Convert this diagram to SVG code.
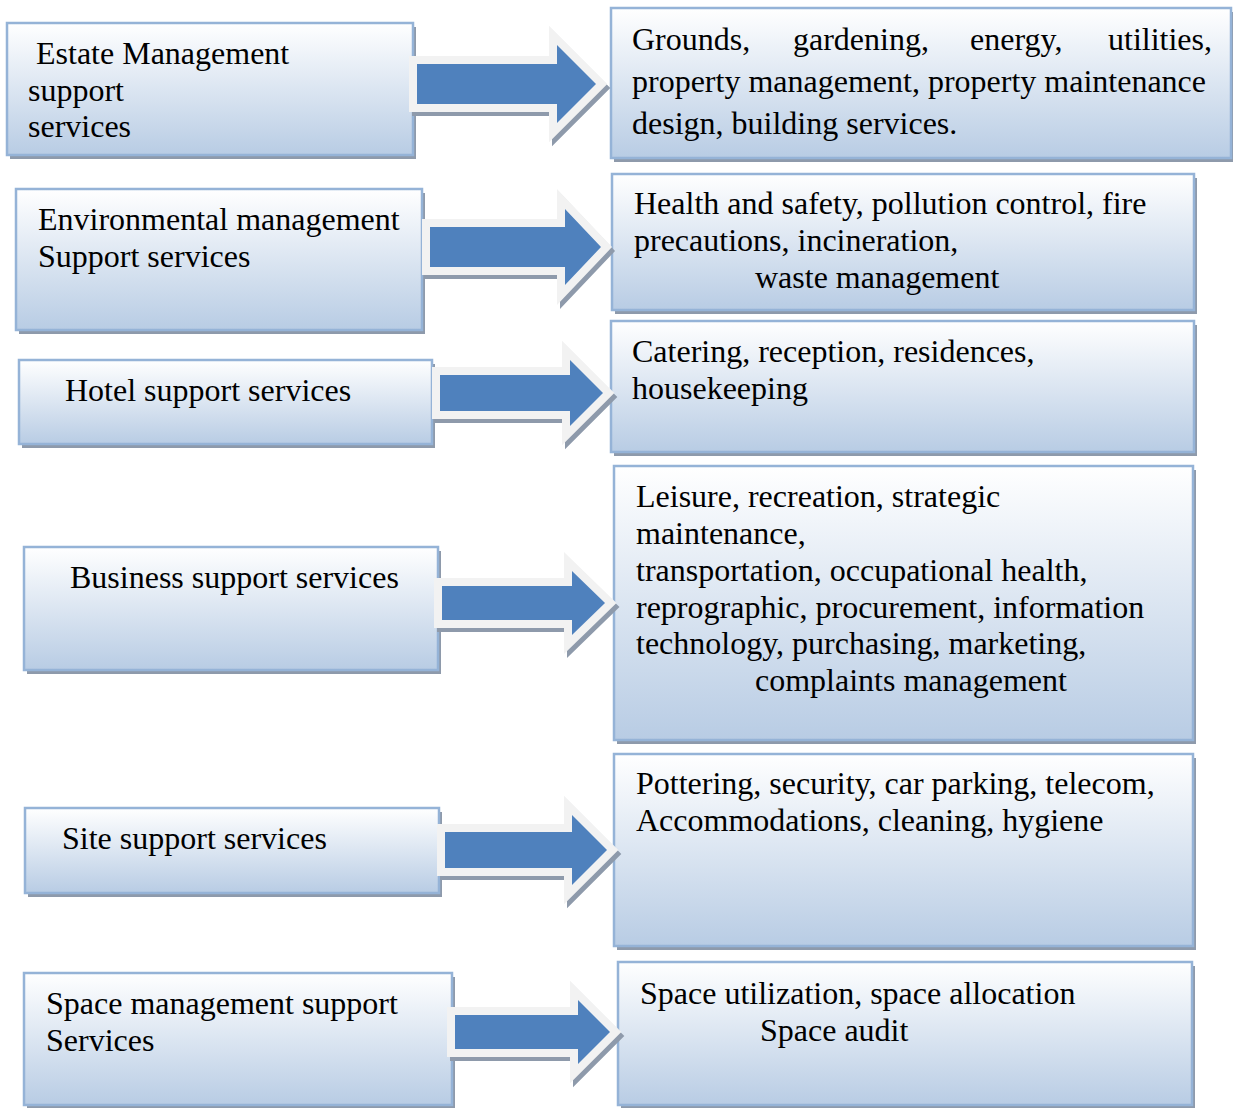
<svg xmlns="http://www.w3.org/2000/svg" xmlns:xlink="http://www.w3.org/1999/xlink" width="1233" height="1108" viewBox="0 0 1233 1108">
<defs>
<linearGradient id="bg" x1="0" y1="0" x2="0" y2="1">
<stop offset="0" stop-color="#ffffff"/>
<stop offset="1" stop-color="#b8cce4"/>
</linearGradient>
<style>
.box{fill:url(#bg);stroke:#95b3d7;stroke-width:2.5}
.sh{fill:#8e9aab}
text{font-family:"Liberation Serif","Times New Roman",serif;font-size:32px;fill:#000}
.ar{fill:#4f81bd;stroke:#f2f2f2;stroke-width:16;stroke-linejoin:miter;stroke-miterlimit:10;paint-order:stroke}
.as{fill:#8e9aab;stroke:#8e9aab;stroke-width:16;stroke-linejoin:miter;stroke-miterlimit:10}
</style>
<path id="a1" d="M417,64 H557 V45 L596,84 L557,123 V104 H417 Z"/>
<path id="a2" d="M430,227 H565 V209 L601,247 L565,285 V267 H430 Z"/>
<path id="a3" d="M440,375 H570 V360 L603,393 L570,426 V411 H440 Z"/>
<path id="a4" d="M442,586 H572 V571 L605,603 L572,635 V620 H442 Z"/>
<path id="a5" d="M445,832 H572 V815 L607,850 L572,885 V868 H445 Z"/>
<path id="a6" d="M455,1015 H578 V1000 L610,1032 L578,1064 V1049 H455 Z"/>
</defs>
<rect width="1233" height="1108" fill="#fff"/>
<g id="n1">
<rect class="sh" x="10" y="27" width="406" height="132"/>
<rect class="box" x="7" y="23" width="406" height="132"/>
<text x="36" y="64">Estate Management</text>
<text x="28" y="101">support</text>
<text x="28" y="137">services</text>
</g>
<g id="r1">
<rect class="sh" x="614" y="12" width="620" height="150"/>
<rect class="box" x="611" y="8" width="620" height="150"/>
<text x="632" y="50">Grounds,</text>
<text x="793" y="50">gardening,</text>
<text x="970" y="50">energy,</text>
<text x="1212" y="50" text-anchor="end">utilities,</text>
<text x="632" y="92">property management, property maintenance</text>
<text x="632" y="134">design, building services.</text>
</g>
<g id="n2">
<rect class="sh" x="19" y="193" width="406" height="141"/>
<rect class="box" x="16" y="189" width="406" height="141"/>
<text x="38" y="230">Environmental management</text>
<text x="38" y="267">Support services</text>
</g>
<g id="r2">
<rect class="sh" x="615" y="178" width="582" height="136"/>
<rect class="box" x="612" y="174" width="582" height="136"/>
<text x="634" y="214">Health and safety, pollution control, fire</text>
<text x="634" y="251">precautions, incineration,</text>
<text x="755" y="288">waste management</text>
</g>
<g id="n3">
<rect class="sh" x="22" y="364" width="413" height="84"/>
<rect class="box" x="19" y="360" width="413" height="84"/>
<text x="65" y="401">Hotel support services</text>
</g>
<g id="r3">
<rect class="sh" x="614" y="325" width="583" height="131"/>
<rect class="box" x="611" y="321" width="583" height="131"/>
<text x="632" y="362">Catering, reception, residences,</text>
<text x="632" y="399">housekeeping</text>
</g>
<g id="n4">
<rect class="sh" x="27" y="551" width="414" height="123"/>
<rect class="box" x="24" y="547" width="414" height="123"/>
<text x="70" y="588">Business support services</text>
</g>
<g id="r4">
<rect class="sh" x="617" y="470" width="579" height="274"/>
<rect class="box" x="614" y="466" width="579" height="274"/>
<text x="636" y="507">Leisure, recreation, strategic</text>
<text x="636" y="544">maintenance,</text>
<text x="636" y="581">transportation, occupational health,</text>
<text x="636" y="618">reprographic, procurement, information</text>
<text x="636" y="654">technology, purchasing, marketing,</text>
<text x="755" y="691">complaints management</text>
</g>
<g id="n5">
<rect class="sh" x="28" y="812" width="414" height="85"/>
<rect class="box" x="25" y="808" width="414" height="85"/>
<text x="62" y="849">Site support services</text>
</g>
<g id="r5">
<rect class="sh" x="617" y="758" width="579" height="192"/>
<rect class="box" x="614" y="754" width="579" height="192"/>
<text x="636" y="794">Pottering, security, car parking, telecom,</text>
<text x="636" y="831">Accommodations, cleaning, hygiene</text>
</g>
<g id="n6">
<rect class="sh" x="27" y="977" width="428" height="132"/>
<rect class="box" x="24" y="973" width="428" height="132"/>
<text x="46" y="1014">Space management support</text>
<text x="46" y="1051">Services</text>
</g>
<g id="r6">
<rect class="sh" x="621" y="966" width="574" height="143"/>
<rect class="box" x="618" y="962" width="574" height="143"/>
<text x="640" y="1004">Space utilization, space allocation</text>
<text x="760" y="1041">Space audit</text>
</g>
<g id="connectors">
<use xlink:href="#a1" class="as" transform="translate(3,4)"/>
<use xlink:href="#a1" class="ar"/>
<use xlink:href="#a2" class="as" transform="translate(3,4)"/>
<use xlink:href="#a2" class="ar"/>
<use xlink:href="#a3" class="as" transform="translate(3,4)"/>
<use xlink:href="#a3" class="ar"/>
<use xlink:href="#a4" class="as" transform="translate(3,4)"/>
<use xlink:href="#a4" class="ar"/>
<use xlink:href="#a5" class="as" transform="translate(3,4)"/>
<use xlink:href="#a5" class="ar"/>
<use xlink:href="#a6" class="as" transform="translate(3,4)"/>
<use xlink:href="#a6" class="ar"/>
</g>
</svg>
